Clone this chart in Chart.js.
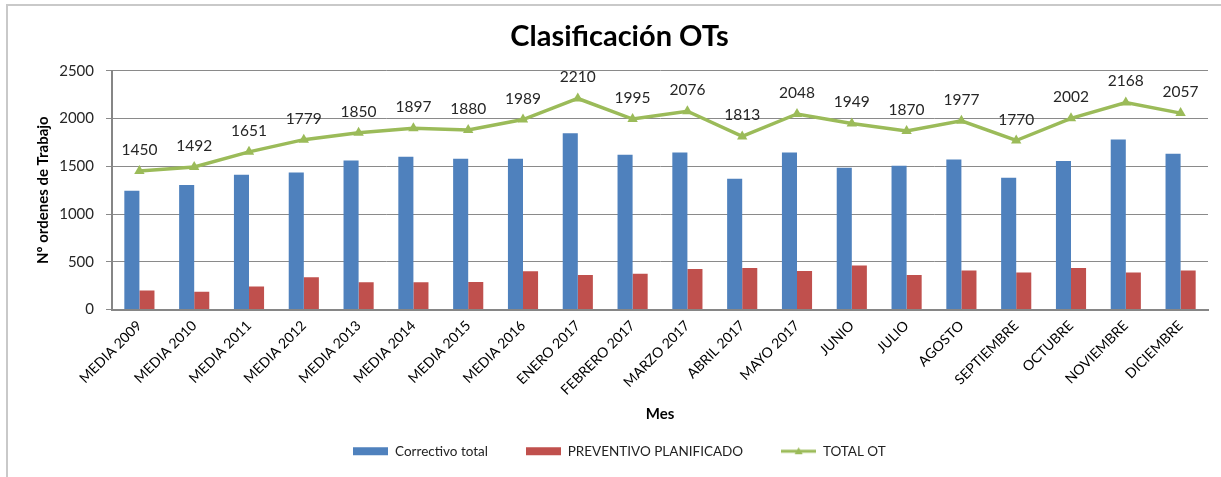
<!DOCTYPE html>
<html>
<head>
<meta charset="utf-8">
<script src="https://cdn.jsdelivr.net/npm/chart.js@4.4.0/dist/chart.umd.min.js"></script>
<style>
    html, body { margin: 0; padding: 0; background: #fff; overflow: hidden; }
    #wrap { position: relative; width: 1221px; height: 477px; overflow: hidden; }
    #frame { position: absolute; left: 6px; top: 4px; width: 1300px; height: 600px; border: 2px solid #c9c9c9; }
    #chart { position: absolute; left: 0; top: 0; }
</style>
</head>
<body>
<div id="wrap">
    <div id="frame"></div>
    <canvas id="chart" width="1221" height="477"></canvas>
</div>
<script>
// ------------------------------
// Data
// ------------------------------
const months = [
    'MEDIA 2009', 'MEDIA 2010', 'MEDIA 2011', 'MEDIA 2012', 'MEDIA 2013',
    'MEDIA 2014', 'MEDIA 2015', 'MEDIA 2016', 'ENERO 2017', 'FEBRERO 2017',
    'MARZO 2017', 'ABRIL 2017', 'MAYO 2017', 'JUNIO', 'JULIO',
    'AGOSTO', 'SEPTIEMBRE', 'OCTUBRE', 'NOVIEMBRE', 'DICIEMBRE'
];
const correctivo = [1245, 1305, 1410, 1435, 1560, 1600, 1580, 1580, 1845, 1620,
                    1645, 1370, 1645, 1485, 1505, 1570, 1380, 1555, 1780, 1630];
const preventivo = [200, 187, 240, 338, 285, 285, 287, 400, 362, 375,
                    423, 435, 402, 460, 362, 408, 388, 435, 388, 408];
const totalOT = [1450, 1492, 1651, 1779, 1850, 1897, 1880, 1989, 2210, 1995,
                 2076, 1813, 2048, 1949, 1870, 1977, 1770, 2002, 2168, 2057];
const yTicks = [0, 500, 1000, 1500, 2000, 2500];

const BLUE = '#4F81BD';
const RED = '#C0504D';
const GREEN = '#9BBB59';
const FONT = 'Lato, "Open Sans", sans-serif';

// small canvas swatches for the legend
function swatch(kind, color) {
    const c = document.createElement('canvas');
    c.width = 35; c.height = 10;
    const g = c.getContext('2d');
    if (kind === 'box') {
        g.fillStyle = color;
        g.fillRect(0, 1, 35, 8);
    } else {
        g.strokeStyle = color;
        g.lineWidth = 3;
        g.beginPath(); g.moveTo(0, 5); g.lineTo(35, 5); g.stroke();
        g.fillStyle = color;
        g.beginPath(); g.moveTo(17.5, 1); g.lineTo(21.5, 8); g.lineTo(13.5, 8); g.closePath(); g.fill();
    }
    return c;
}
const swatches = [swatch('box', BLUE), swatch('box', RED), swatch('line', GREEN)];

// value labels above the TOTAL OT points
const totalLabels = {
    id: 'totalLabels',
    afterDatasetsDraw(chart) {
        const meta = chart.getDatasetMeta(2);
        const ctx = chart.ctx;
        ctx.save();
        ctx.font = '15.5px ' + FONT;
        ctx.fillStyle = '#262626';
        ctx.textAlign = 'center';
        ctx.textBaseline = 'middle';
        meta.data.forEach((pt, i) => ctx.fillText(String(totalOT[i]), pt.x, pt.y - 21));
        ctx.restore();
    }
};

new Chart(document.getElementById('chart').getContext('2d'), {
    type: 'bar',
    data: {
        labels: months,
        datasets: [
            {
                label: 'Correctivo total',
                data: correctivo,
                backgroundColor: BLUE,
                categoryPercentage: 0.55,
                barPercentage: 1
            },
            {
                label: 'PREVENTIVO PLANIFICADO',
                data: preventivo,
                backgroundColor: RED,
                categoryPercentage: 0.55,
                barPercentage: 1
            },
            {
                label: 'TOTAL OT',
                type: 'line',
                data: totalOT,
                order: -1,
                borderColor: GREEN,
                backgroundColor: GREEN,
                borderWidth: 3.5,
                tension: 0,
                pointStyle: 'triangle',
                pointRadius: 6,
                pointBorderWidth: 0
            }
        ]
    },
    options: {
        responsive: false,
        animation: false,
        devicePixelRatio: 1,
        layout: { padding: { left: 31, right: 13, top: 0, bottom: 9 } },
        plugins: {
            title: {
                display: true,
                text: 'Clasificación OTs',
                color: '#000',
                font: { family: FONT, size: 29, weight: 'bold' },
                padding: { top: 19, bottom: 17 }
            },
            legend: {
                position: 'bottom',
                labels: {
                    usePointStyle: true,
                    pointStyleWidth: 35,
                    padding: 38,
                    color: '#222',
                    font: { family: FONT, size: 13.5 },
                    generateLabels: (chart) => chart.data.datasets.map((ds, i) => ({
                        text: ds.label,
                        pointStyle: swatches[i],
                        fillStyle: ds.backgroundColor,
                        strokeStyle: 'transparent',
                        lineWidth: 0,
                        hidden: false,
                        datasetIndex: i,
                        fontColor: '#222'
                    }))
                }
            },
            tooltip: { enabled: false }
        },
        scales: {
            x: {
                grid: { display: false, drawTicks: false },
                border: { color: '#868686', width: 2 },
                ticks: {
                    color: '#000',
                    font: { family: FONT, size: 14 },
                    minRotation: 45,
                    maxRotation: 45,
                    padding: 8,
                    autoSkip: false
                },
                title: {
                    display: true,
                    text: 'Mes',
                    color: '#000',
                    font: { family: FONT, size: 15, weight: 'bold' },
                    padding: { top: 0, bottom: -17 }
                },
                afterFit: (s) => { s.height = 97; }
            },
            y: {
                min: 0,
                max: 2500,
                afterBuildTicks: (s) => { s.ticks = yTicks.map(v => ({ value: v })); },
                grid: { color: '#8a8a8a', lineWidth: 1, tickLength: 6 },
                border: { color: '#868686', width: 2 },
                ticks: {
                    color: '#262626',
                    font: { family: FONT, size: 15 },
                    padding: 12,
                    callback: (v) => String(v)
                },
                title: {
                    display: true,
                    text: 'Nº ordenes de Trabajo',
                    color: '#000',
                    font: { family: FONT, size: 15, weight: 'bold' },
                    padding: { top: 3, bottom: 0 }
                },
                afterFit: (s) => { s.width = 81; }
            }
        }
    },
    plugins: [totalLabels]
});
</script>
</body>
</html>
